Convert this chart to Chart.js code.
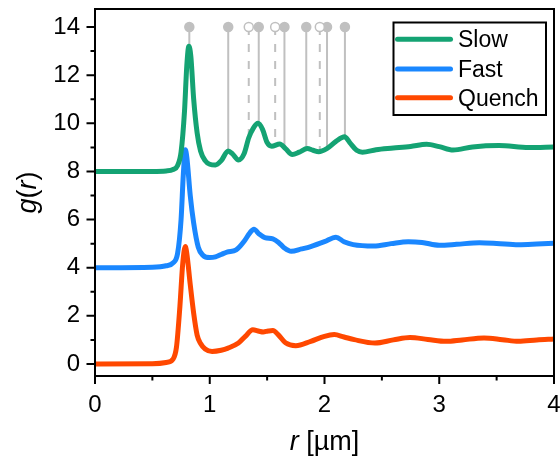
<!DOCTYPE html>
<html>
<head>
<meta charset="utf-8">
<script src="https://cdn.jsdelivr.net/npm/chart.js@4.4.1/dist/chart.umd.min.js"></script>
<style>
  html, body { margin: 0; padding: 0; background: #fff; overflow: hidden; }
  #chartGr { display: block; }
</style>
</head>
<body>
<canvas id="chartGr" width="560" height="456"></canvas>
<script>
// DATOS: g(r) de cada serie (ya desplazadas +8 / +4 / 0)
const seriesNames = ["Slow", "Fast", "Quench"];

const slowR = [0, 0.5, 0.62, 0.68, 0.72, 0.75, 0.78, 0.8, 0.818, 0.835, 0.86, 0.89, 0.92, 0.96, 1.0, 1.05, 1.1, 1.16, 1.2, 1.25, 1.3, 1.34, 1.38, 1.42, 1.46, 1.5, 1.54, 1.61, 1.66, 1.72, 1.78, 1.85, 1.9, 1.95, 2.02, 2.1, 2.175, 2.22, 2.28, 2.33, 2.45, 2.6, 2.75, 2.89, 3.0, 3.12, 3.29, 3.52, 3.78, 4.0];
const slowG = [8.0, 8.0, 8.02, 8.08, 8.25, 8.8, 10.5, 12.4, 13.2, 12.8, 11.0, 9.6, 8.85, 8.45, 8.3, 8.27, 8.45, 8.85, 8.72, 8.48, 8.75, 9.4, 9.8, 10.0, 9.75, 9.2, 9.05, 9.14, 8.95, 8.7, 8.8, 8.95, 8.88, 8.82, 8.95, 9.25, 9.44, 9.2, 8.88, 8.8, 8.9, 8.97, 9.04, 9.13, 9.03, 8.89, 9.02, 9.08, 8.99, 9.02];

const fastR = [0, 0.5, 0.62, 0.68, 0.72, 0.75, 0.77, 0.787, 0.8, 0.83, 0.86, 0.9, 0.94, 1.0, 1.05, 1.1, 1.15, 1.23, 1.3, 1.35, 1.385, 1.43, 1.48, 1.55, 1.6, 1.65, 1.71, 1.8, 1.88, 2.0, 2.1, 2.17, 2.25, 2.43, 2.58, 2.73, 2.85, 3.0, 3.15, 3.35, 3.5, 3.69, 3.85, 4.0];
const fastG = [4.0, 4.02, 4.08, 4.2, 4.6, 6.0, 7.9, 8.9, 8.6, 7.0, 5.85, 4.85, 4.52, 4.42, 4.45, 4.55, 4.65, 4.74, 5.1, 5.45, 5.6, 5.4, 5.25, 5.2, 5.05, 4.82, 4.68, 4.78, 4.88, 5.08, 5.27, 5.08, 4.96, 4.9, 5.0, 5.08, 5.05, 4.93, 4.97, 5.04, 5.01, 4.95, 4.98, 5.02];

const quenchR = [0, 0.5, 0.62, 0.68, 0.71, 0.74, 0.765, 0.787, 0.8, 0.83, 0.86, 0.89, 0.92, 0.96, 1.02, 1.1, 1.16, 1.25, 1.31, 1.375, 1.43, 1.465, 1.51, 1.55, 1.6, 1.66, 1.75, 1.88, 2.0, 2.085, 2.17, 2.26, 2.44, 2.6, 2.745, 2.9, 3.06, 3.2, 3.39, 3.55, 3.69, 3.85, 4.0];
const quenchG = [0.0, 0.01, 0.06, 0.2, 0.7, 2.4, 4.2, 4.88, 4.6, 3.3, 2.1, 1.2, 0.85, 0.62, 0.52, 0.57, 0.66, 0.87, 1.15, 1.42, 1.36, 1.33, 1.37, 1.39, 1.2, 0.88, 0.76, 0.94, 1.15, 1.22, 1.12, 1.01, 0.87, 1.0, 1.1, 1.02, 0.94, 1.0, 1.08, 1.01, 0.94, 1.0, 1.04];

// posiciones de referencia (líneas verticales grises)
const stemR = [0.822, 1.161, 1.34, 1.427, 1.57, 1.651, 1.841, 1.959, 2.022, 2.178];
const stemEnd = [13.2, 8.86, 9.4, 10.0, 9.05, 9.05, 8.93, 8.82, 8.95, 9.44];
const stemKind = ["solid", "solid", "open", "solid", "open", "solid", "solid", "open", "solid", "solid"];
const stemTop = 14;

const xTicks = [0, 1, 2, 3, 4];
const xMinor = [0.5, 1.5, 2.5, 3.5];
const yTicks = [0, 2, 4, 6, 8, 10, 12, 14];
const yMinor = [1, 3, 5, 7, 9, 11, 13];

const colors = ["#14a373", "#1a87ff", "#ff4800"];
const stemColor = "#c0c0c0";
const fontName = "'Liberation Sans', Arial, sans-serif";

function zip(xs, ys) {
  return xs.map((v, i) => ({ x: v, y: ys[i] }));
}

const curves = [zip(slowR, slowG), zip(fastR, fastG), zip(quenchR, quenchG)].map((d, i) => ({
  label: seriesNames[i],
  data: d,
  borderColor: colors[i],
  borderWidth: 5,
  pointRadius: 0,
  cubicInterpolationMode: "monotone",
  fill: false,
}));

const stems = stemR.map((r, i) => ({
  label: "",
  data: [{ x: r, y: stemTop }, { x: r, y: stemEnd[i] }],
  borderColor: stemColor,
  borderWidth: 2,
  borderDash: stemKind[i] === "open" ? [8, 9] : [],
  pointRadius: [4.5, 0],
  pointBorderWidth: 1.5,
  pointBorderColor: stemColor,
  pointBackgroundColor: stemKind[i] === "open" ? "#ffffff" : stemColor,
}));

// MARCO, TICKS Y TÍTULOS
const axisDecor = {
  id: "axisDecor",
  afterDraw(chart) {
    const { ctx, chartArea: a } = chart;
    const x = chart.scales.x;
    const y = chart.scales.y;
    ctx.save();
    ctx.strokeStyle = "#000";
    ctx.lineWidth = 2;
    ctx.strokeRect(a.left, a.top, a.right - a.left, a.bottom - a.top);
    ctx.beginPath();
    xTicks.forEach((v) => {
      const px = x.getPixelForValue(v);
      ctx.moveTo(px, a.bottom);
      ctx.lineTo(px, a.bottom + 8);
    });
    xMinor.forEach((v) => {
      const px = x.getPixelForValue(v);
      ctx.moveTo(px, a.bottom);
      ctx.lineTo(px, a.bottom + 4.5);
    });
    yTicks.forEach((v) => {
      const py = y.getPixelForValue(v);
      ctx.moveTo(a.left, py);
      ctx.lineTo(a.left - 8.5, py);
    });
    yMinor.forEach((v) => {
      const py = y.getPixelForValue(v);
      ctx.moveTo(a.left, py);
      ctx.lineTo(a.left - 4.5, py);
    });
    ctx.stroke();

    // etiquetas del eje x (la "4" queda cortada en el borde, como en el original)
    ctx.fillStyle = "#000";
    ctx.font = "24px " + fontName;
    ctx.textAlign = "center";
    ctx.textBaseline = "alphabetic";
    xTicks.forEach((v) => {
      ctx.fillText(String(v), x.getPixelForValue(v), a.bottom + 35.5);
    });
    ctx.textAlign = "left";

    // títulos con partes en cursiva
    const drawParts = (parts, cx, cy) => {
      let total = 0;
      parts.forEach((p) => {
        ctx.font = (p[1] ? "italic " : "") + "27px " + fontName;
        total += ctx.measureText(p[0]).width;
      });
      let pos = cx - total / 2;
      parts.forEach((p) => {
        ctx.font = (p[1] ? "italic " : "") + "27px " + fontName;
        ctx.fillText(p[0], pos, cy);
        pos += ctx.measureText(p[0]).width;
      });
    };
    drawParts([["r", true], [" [\u00b5m]", false]], (a.left + a.right) / 2, 450);
    ctx.save();
    ctx.translate(36, (a.top + a.bottom) / 2);
    ctx.rotate(-Math.PI / 2);
    drawParts([["g", true], ["(", false], ["r", true], [")", false]], 0, 0);
    ctx.restore();
    ctx.restore();
  },
};

// LEYENDA dentro del área
const boxLegend = {
  id: "boxLegend",
  afterDraw(chart) {
    const ctx = chart.ctx;
    ctx.save();
    ctx.fillStyle = "#fff";
    ctx.fillRect(393.5, 22.5, 152.5, 92.5);
    ctx.strokeStyle = "#000";
    ctx.lineWidth = 2;
    ctx.strokeRect(393.5, 22.5, 152.5, 92.5);
    const rows = [39.3, 69, 97.7];
    ctx.font = "23px " + fontName;
    ctx.textBaseline = "alphabetic";
    seriesNames.forEach((name, i) => {
      ctx.strokeStyle = colors[i];
      ctx.lineWidth = 5;
      ctx.lineCap = "round";
      ctx.beginPath();
      ctx.moveTo(397.5, rows[i]);
      ctx.lineTo(450.5, rows[i]);
      ctx.stroke();
      ctx.fillStyle = "#000";
      ctx.fillText(name, 458, rows[i] + 8);
    });
    ctx.restore();
  },
};

document.addEventListener("DOMContentLoaded", function () {
  const ctx = document.getElementById("chartGr").getContext("2d");

  new Chart(ctx, {
    type: "line",
    data: { datasets: curves.concat(stems) },
    options: {
      responsive: false,
      animation: false,
      layout: { padding: { top: 9, right: 2, left: 0, bottom: 0 } },
      plugins: { legend: { display: false }, tooltip: { enabled: false } },
      scales: {
        x: {
          type: "linear",
          min: 0,
          max: 4,
          afterBuildTicks: (s) => { s.ticks = xTicks.map((v) => ({ value: v })); },
          afterFit: (s) => { s.height = 80; },
          border: { display: false },
          grid: { drawOnChartArea: false, color: "rgba(0,0,0,0)", tickLength: 8 },
          ticks: { display: false },
        },
        y: {
          type: "linear",
          min: -0.5,
          max: 14.75,
          afterBuildTicks: (s) => { s.ticks = yTicks.map((v) => ({ value: v })); },
          afterFit: (s) => { s.width = 95; s.paddingTop = 0; s.paddingBottom = 0; },
          border: { display: false },
          grid: { drawOnChartArea: false, color: "rgba(0,0,0,0)", tickLength: 9 },
          ticks: { color: "#000", padding: 6, font: { family: fontName, size: 24 } },
        },
      },
    },
    plugins: [axisDecor, boxLegend],
  });
});
</script>
</body>
</html>
